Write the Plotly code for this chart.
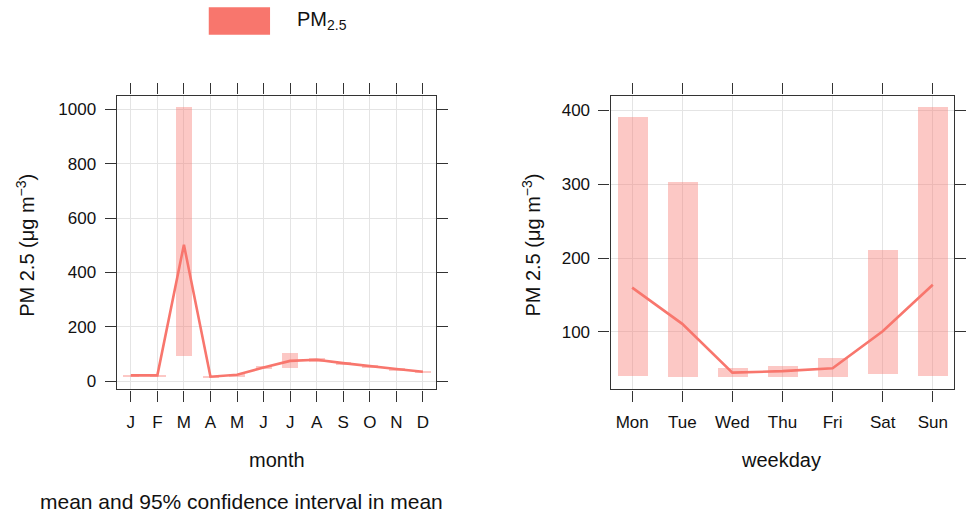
import plotly.graph_objects as go

# ---- data ----
months = ["J", "F", "M", "A", "M", "J", "J", "A", "S", "O", "N", "D"]
month_mean = [22, 22, 502, 17, 24, 51, 75, 79, 67, 55, 45, 35]
month_lo = [19, 19, 94, 13, 19, 46, 51, 73, 62, 50, 40, 31]
month_hi = [26, 26, 1010, 22, 29, 57, 107, 86, 72, 60, 50, 40]

weekdays = ["Mon", "Tue", "Wed", "Thu", "Fri", "Sat", "Sun"]
week_mean = [160, 111, 45, 47, 51, 101, 164]
week_lo = [41, 39, 39, 39, 39, 43, 41]
week_hi = [392, 303, 52, 54, 65, 212, 405]

line_col = "#F8766D"
ci_col = "rgba(248,118,109,0.4)"
FONT = "Liberation Sans, Arial, sans-serif"
W, H = 967, 514

mx = list(range(1, len(months) + 1))
wx = list(range(len(weekdays)))

fig = go.Figure()
fig.add_trace(go.Bar(x=mx, y=[h - l for h, l in zip(month_hi, month_lo)], base=month_lo,
                     width=0.6, marker=dict(color=ci_col, line=dict(width=0)),
                     xaxis="x", yaxis="y", showlegend=False))
fig.add_trace(go.Scatter(x=mx, y=month_mean, mode="lines", line=dict(color=line_col, width=2.6),
                         xaxis="x", yaxis="y", showlegend=False))
fig.add_trace(go.Bar(x=wx, y=[h - l for h, l in zip(week_hi, week_lo)], base=week_lo,
                     width=0.6, marker=dict(color=ci_col, line=dict(width=0)),
                     xaxis="x2", yaxis="y2", showlegend=False))
fig.add_trace(go.Scatter(x=wx, y=week_mean, mode="lines", line=dict(color=line_col, width=2.6),
                         xaxis="x2", yaxis="y2", showlegend=False))

def px_x(p):
    return p / W

def px_y(p):
    return 1 - p / H

ydom = [px_y(391), px_y(96)]
axcommon = dict(showline=True, linecolor="#333", linewidth=1.3, mirror="ticks",
                ticks="outside", ticklen=11, tickwidth=1.3, tickcolor="#333",
                showgrid=True, gridcolor="#e4e4e4", gridwidth=1, zeroline=False,
                tickfont=dict(family=FONT, size=17, color="#111"))

fig.update_layout(
    width=W, height=H, margin=dict(l=0, r=0, t=0, b=0),
    paper_bgcolor="white", plot_bgcolor="white", bargap=0,
    font=dict(family=FONT, color="#111"),
    xaxis=dict(domain=[px_x(117.7), px_x(439.3)], range=[0.47, 12.48],
               tickvals=mx, ticktext=months, anchor="y", ticklabelstandoff=6, **axcommon),
    yaxis=dict(domain=ydom, range=[-30, 1050], tickvals=[0, 200, 400, 600, 800, 1000],
               anchor="x", ticklabelstandoff=5, **axcommon),
    xaxis2=dict(domain=[px_x(615.7), px_x(962.3)], range=[-0.43, 6.43],
                tickvals=wx, ticktext=weekdays, anchor="y2", ticklabelstandoff=6, **axcommon),
    yaxis2=dict(domain=ydom, range=[22.2, 419.8], tickvals=[100, 200, 300, 400],
                anchor="x2", ticklabelstandoff=5, **axcommon),
)

# legend key
fig.add_shape(type="rect", xref="paper", yref="paper",
              x0=px_x(210.5), x1=px_x(272.3), y0=px_y(35), y1=px_y(7.3),
              fillcolor=line_col, line=dict(width=0))

ann = [
    dict(text="PM<sub>2.5</sub>", x=px_x(297), y=px_y(21), xanchor="left", yanchor="middle", size=20),
    dict(text="month", x=px_x(279), y=px_y(462), xanchor="center", yanchor="middle", size=20),
    dict(text="weekday", x=px_x(788), y=px_y(462), xanchor="center", yanchor="middle", size=20),
    dict(text="mean and 95% confidence interval in mean", x=px_x(244), y=px_y(503),
         xanchor="center", yanchor="middle", size=21),
]
for a in ann:
    fig.add_annotation(text=a["text"], x=a["x"], y=a["y"], xref="paper", yref="paper",
                       xanchor=a["xanchor"], yanchor=a["yanchor"], showarrow=False,
                       font=dict(family=FONT, size=a["size"], color="#111"))

for xc in (25, 535):
    fig.add_annotation(text="PM 2.5 (μg m<sup>−3</sup>)", x=px_x(xc), y=px_y(246),
                       xref="paper", yref="paper", xanchor="center", yanchor="middle",
                       textangle=-90, showarrow=False,
                       font=dict(family=FONT, size=20, color="#111"))

fig.write_html("out.html")
